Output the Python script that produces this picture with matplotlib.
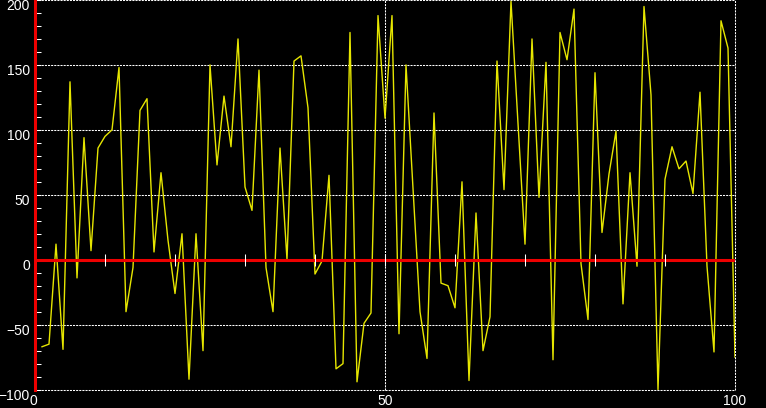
import matplotlib
matplotlib.use("Agg")
import matplotlib.pyplot as plt
from matplotlib import font_manager
from matplotlib.ticker import MultipleLocator, FixedLocator, NullFormatter
from matplotlib.transforms import ScaledTranslation
import numpy as np

# series values, one per unit step on x
x_values = np.arange(1, 101)
y_values = [
    -67, -65, 12, -69, 137, -14, 94, 7, 86, 95,
    100, 148, -40, -6, 115, 124, 6, 67, 15, -26,
    20, -92, 20, -70, 150, 73, 126, 87, 170, 56,
    38, 146, -6, -40, 86, 0, 153, 157, 117, -11,
    -1, 65, -84, -80, 175, -94, -49, -41, 188, 109,
    188, -57, 150, 55, -40, -76, 113, -18, -20, -37,
    60, -93, 36, -70, -44, 153, 54, 199, 105, 12,
    170, 48, 152, -77, 175, 154, 193, -3, -46, 144,
    21, 66, 99, -34, 67, -5, 195, 127, -100, 62,
    87, 70, 76, 51, 129, -5, -71, 184, 163, -75,
]

x_label_ticks = [0, 50, 100]
y_label_ticks = [-100, -50, 0, 50, 100, 150, 200]

names = {f.name for f in font_manager.fontManager.ttflist}
family = "Liberation Sans Narrow" if "Liberation Sans Narrow" in names else "Liberation Sans"
plt.rcParams["font.family"] = [family, "DejaVu Sans"]

W, H = 766, 408
fig = plt.figure(figsize=(W / 100, H / 100), dpi=100, facecolor="black")
ax = fig.add_axes([35 / W, (H - 389.6) / H, 700 / W, 389.6 / H])
ax.set_facecolor("black")

ax.plot(x_values, y_values, color="#e6e600", linewidth=1.0, zorder=2)
# red axis line through y = 0
ax.axhline(0, color="#ee0000", linewidth=2.2, zorder=3)

ax.set_xlim(0, 100)
ax.set_ylim(-100, 200)

# grid
ax.xaxis.set_major_locator(FixedLocator(x_label_ticks))
ax.yaxis.set_major_locator(FixedLocator(y_label_ticks))
ax.yaxis.set_minor_locator(MultipleLocator(10))
ax.grid(True, which="major", color="white", linestyle=(0, (2, 1)), linewidth=0.75)
ax.set_axisbelow(True)
for gl in ax.get_xgridlines() + ax.get_ygridlines():
    gl.set_clip_on(False)

for side in ("top", "right", "bottom"):
    ax.spines[side].set_visible(False)
ax.spines["left"].set_color("#ee0000")
ax.spines["left"].set_linewidth(2.2)
ax.spines["left"].set_zorder(3)

ax.tick_params(axis="x", which="major", length=0, pad=3, labelsize=10, labelcolor="white")
ax.tick_params(axis="y", which="both", direction="in", length=4, width=0.75,
               color="white", pad=3.6, labelsize=10, labelcolor="white")

offset = ScaledTranslation(0, -5 / 100, fig.dpi_scale_trans)
for lab in ax.get_yticklabels():
    lab.set_transform(lab.get_transform() + offset)
x_shift = ScaledTranslation(-1.5 / 100, 0, fig.dpi_scale_trans)
ax.get_xticklabels()[0].set_transform(ax.get_xticklabels()[0].get_transform() + x_shift)

# crossing ticks on the y = 0 axis
sec = ax.secondary_xaxis(1 / 3)
sec.set_zorder(4)
sec.spines["bottom"].set_visible(False)
sec.set_xticks(np.arange(10, 100, 10))
sec.xaxis.set_major_formatter(NullFormatter())
sec.tick_params(axis="x", direction="inout", length=8, width=0.75, color="white")
sec.set_facecolor("none")

fig.savefig("out.png", dpi=100, facecolor="black")
